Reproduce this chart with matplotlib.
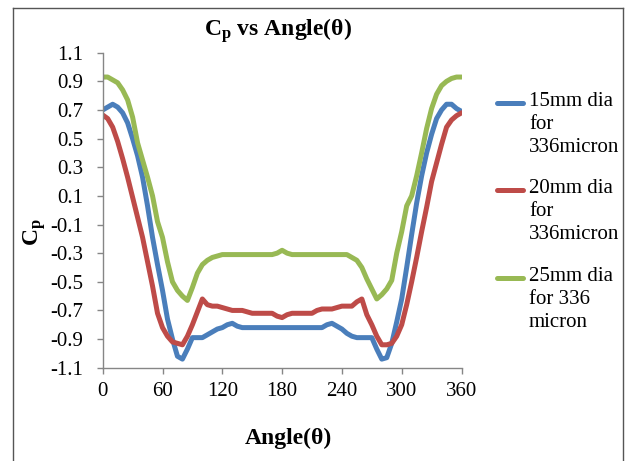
import numpy as np
import matplotlib
matplotlib.use("Agg")
import matplotlib.pyplot as plt
from matplotlib.lines import Line2D

plt.rcParams['font.family'] = ['Liberation Serif', 'DejaVu Serif']
plt.rcParams['mathtext.fontset'] = 'custom'
plt.rcParams['mathtext.rm'] = 'Liberation Serif'
plt.rcParams['mathtext.bf'] = 'Liberation Serif:bold'
plt.rcParams['mathtext.it'] = 'Liberation Serif:italic'

angles = list(range(0, 361, 5))

cp_15mm = [0.70, 0.72, 0.74, 0.72, 0.68, 0.61, 0.50, 0.38, 0.23, 0.03,
           -0.19, -0.38, -0.56, -0.76, -0.90, -1.02, -1.04, -0.97, -0.89, -0.89,
           -0.89, -0.87, -0.85, -0.83, -0.82, -0.80, -0.79, -0.81, -0.82, -0.82,
           -0.82, -0.82, -0.82, -0.82, -0.82, -0.82, -0.82, -0.82, -0.82, -0.82,
           -0.82, -0.82, -0.82, -0.82, -0.82, -0.80, -0.79, -0.81, -0.83, -0.86,
           -0.88, -0.89, -0.89, -0.89, -0.89, -0.97, -1.04, -1.03, -0.93, -0.78,
           -0.62, -0.40, -0.17, 0.05, 0.24, 0.40, 0.53, 0.64, 0.70, 0.74,
           0.74, 0.71, 0.69]

cp_20mm = [0.665, 0.64, 0.58, 0.48, 0.36, 0.23, 0.09, -0.05, -0.19, -0.36,
           -0.53, -0.72, -0.82, -0.88, -0.92, -0.93, -0.94, -0.88, -0.80, -0.71,
           -0.62, -0.66, -0.67, -0.67, -0.68, -0.69, -0.70, -0.70, -0.70, -0.71,
           -0.72, -0.72, -0.72, -0.72, -0.72, -0.74, -0.75, -0.73, -0.72, -0.72,
           -0.72, -0.72, -0.72, -0.70, -0.69, -0.69, -0.69, -0.68, -0.67, -0.67,
           -0.67, -0.64, -0.62, -0.73, -0.80, -0.88, -0.94, -0.94, -0.93, -0.88,
           -0.80, -0.66, -0.50, -0.33, -0.15, 0.02, 0.20, 0.33, 0.46, 0.58,
           0.63, 0.66, 0.68]

cp_25mm = [0.93, 0.93, 0.91, 0.89, 0.84, 0.77, 0.65, 0.47, 0.35, 0.23,
           0.10, -0.08, -0.19, -0.36, -0.50, -0.56, -0.60, -0.63, -0.54, -0.44,
           -0.38, -0.35, -0.33, -0.32, -0.31, -0.31, -0.31, -0.31, -0.31, -0.31,
           -0.31, -0.31, -0.31, -0.31, -0.31, -0.30, -0.28, -0.30, -0.31, -0.31,
           -0.31, -0.31, -0.31, -0.31, -0.31, -0.31, -0.31, -0.31, -0.31, -0.31,
           -0.33, -0.35, -0.40, -0.48, -0.55, -0.62, -0.59, -0.55, -0.49, -0.30,
           -0.15, 0.03, 0.10, 0.24, 0.40, 0.57, 0.71, 0.81, 0.87, 0.90,
           0.92, 0.93, 0.93]

labels = ["15mm dia\nfor\n336micron", "20mm dia\nfor\n336micron", "25mm dia\nfor 336\nmicron"]
colors = ["#4A7EBB", "#BE4B48", "#98B954"]
x_ticks = [0, 60, 120, 180, 240, 300, 360]
y_ticks = [1.1, 0.9, 0.7, 0.5, 0.3, 0.1, -0.1, -0.3, -0.5, -0.7, -0.9, -1.1]

W, H = 627, 461
fig = plt.figure(figsize=(W / 100, H / 100), dpi=100)
ax = fig.add_axes([102.7 / W, 1 - 367.7 / H, (461.5 - 102.7) / W, 315 / H])

handles = []
for vals, col, lab in zip([cp_15mm, cp_20mm, cp_25mm], colors, labels):
    h, = ax.plot(angles, vals, color=col, lw=3.6, solid_joinstyle='round',
                 solid_capstyle='round', label=lab)
    handles.append(h)

ax.set_xlim(0, 360)
ax.set_ylim(-1.1, 1.1)
ax.set_xticks(x_ticks)
ax.set_yticks(y_ticks)
ax.set_yticklabels([f"{v:.1f}" for v in y_ticks])
for s in ['top', 'right']:
    ax.spines[s].set_visible(False)
for s in ['left', 'bottom']:
    ax.spines[s].set_color('#868686')
    ax.spines[s].set_linewidth(1.0)
ax.tick_params(axis='both', direction='out', length=4, width=1.0, color='#868686',
               labelsize=15, labelcolor='black')
ax.tick_params(axis='y', pad=10)
ax.tick_params(axis='x', pad=6)

fig.text(278 / W, 1 - 31 / H, r'$\mathbf{C_p}$' + ' vs Angle(θ)', ha='center', va='center',
         fontsize=17, fontweight='bold')
fig.text(288 / W, 1 - 438 / H, 'Angle(θ)', ha='center', va='center', fontsize=17,
         fontweight='bold')
fig.text(35 / W, 1 - 232 / H, r'$\mathbf{C_p}$', ha='center', va='center', fontsize=17,
         rotation=90)

# legend drawn manually from handles
leg_y = [102.7, 190, 278]
for h, y0, lab in zip(handles, leg_y, labels):
    fig.add_artist(Line2D([497 / W, 523 / W], [1 - y0 / H, 1 - y0 / H], color=h.get_color(),
                          lw=3.6, solid_capstyle='round'))
    fig.text(529 / W, 1 - (y0 - 11) / H, lab, ha='left', va='top', fontsize=15,
             linespacing=1.28)

# outer frame
fig.add_artist(Line2D([13 / W, 13 / W], [0, 1 - 8 / H], color='#555555', lw=1))
fig.add_artist(Line2D([13 / W, 623 / W], [1 - 8 / H, 1 - 8 / H], color='#555555', lw=1))
fig.add_artist(Line2D([623 / W, 623 / W], [0, 1 - 8 / H], color='#555555', lw=1))

fig.savefig('out.png', dpi=100)
